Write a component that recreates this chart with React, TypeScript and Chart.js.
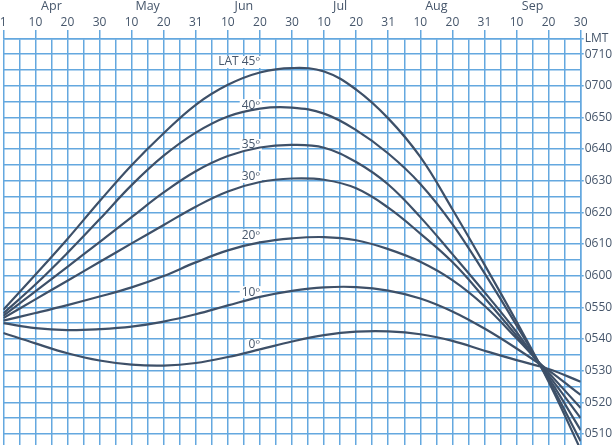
import { useEffect, useRef } from 'react';
import { Chart, registerables } from 'chart.js';

Chart.register(...registerables);

// ---- Data ----
// x positions: 0 = Apr 1, then one unit per ten-day mark (10, 20, end of month) up to 18 = Sep 30
const dekadPositions = [0, 1, 2, 3, 4, 5, 6, 7, 8, 9, 10, 11, 12, 13, 14, 15, 16, 17, 18];
const dayTickLabels = ['1', '10', '20', '30', '10', '20', '31', '10', '20', '30', '10', '20', '31', '10', '20', '31', '10', '20', '30'];
const monthNames = ['Apr', 'May', 'Jun', 'Jul', 'Aug', 'Sep'];
const timeTickLabels = ['0510', '0520', '0530', '0540', '0550', '0600', '0610', '0620', '0630', '0640', '0650', '0700', '0710'];
const unitLabel = 'LMT';

const latitudeNames = ['LAT 45º', '40º', '35º', '30º', '20º', '10º', '0º'];

// values in minutes after midnight (LMT)
const lat45 = [349.2, 360.3, 371.6, 383.5, 394.9, 405.0, 414.0, 420.3, 424.2, 425.6, 424.5, 418.8, 409.7, 397.5, 381.0, 363.5, 345.5, 326.5, 305.0];
const lat40 = [348.1, 357.2, 367.2, 377.8, 388.6, 397.9, 405.2, 410.3, 412.8, 413.1, 411.2, 406.0, 398.6, 389.0, 376.3, 360.8, 344.3, 327.0, 307.7];
const lat35 = [347.3, 355.0, 362.8, 370.6, 378.5, 386.3, 393.0, 397.8, 400.5, 401.3, 400.4, 395.9, 388.8, 378.5, 366.8, 354.8, 342.2, 327.7, 311.2];
const lat30 = [346.6, 352.5, 358.4, 364.3, 370.2, 376.0, 381.8, 386.6, 389.6, 390.7, 390.3, 387.6, 381.5, 373.3, 364.3, 353.0, 341.0, 328.5, 315.0];
const lat20 = [345.8, 348.2, 350.7, 353.4, 356.3, 359.9, 364.2, 368.0, 370.5, 371.8, 372.2, 371.2, 368.4, 364.4, 358.6, 350.5, 340.2, 329.3, 318.2];
const lat10 = [345.0, 343.4, 342.8, 343.1, 343.9, 345.5, 347.8, 350.6, 353.3, 355.2, 356.3, 356.4, 355.3, 352.8, 348.7, 343.3, 337.0, 330.1, 322.3];
const lat0 = [341.9, 338.6, 335.5, 333.2, 331.9, 331.6, 332.4, 334.3, 336.7, 339.2, 341.2, 342.3, 342.4, 341.5, 339.4, 336.3, 333.3, 330.5, 326.5];

const seriesList = [lat45, lat40, lat35, lat30, lat20, lat10, lat0];

// label annotation anchors (data space): right edge at this x, centred at these times
const labelAnchorDekad = 8.0;
const labelAnchorTimes = [427.5, 413.9, 401.3, 391.2, 372.8, 354.8, 338.1];

// ---- helpers ----
const toMinutes = (hhmm: string) => parseInt(hhmm.slice(0, 2), 10) * 60 + parseInt(hhmm.slice(2), 10);
const toHHMM = (m: number) => {
  const h = Math.floor(m / 60);
  const mm = Math.round(m - h * 60);
  return String(h).padStart(2, '0') + String(mm).padStart(2, '0');
};

const labeledTimes = timeTickLabels.map(toMinutes);
const topTime = labeledTimes[labeledTimes.length - 1] + 5; // LMT row
const gridTimes: number[] = [];
labeledTimes.forEach((t) => {
  gridTimes.push(t);
  gridTimes.push(t + 5);
});

const GRID = '#64a8df';
const LINE = '#3e5068';
const TEXT = '#46566b';
const FONT = '"Open Sans", sans-serif';

export default function App() {
  const canvasRef = useRef<HTMLCanvasElement | null>(null);

  useEffect(() => {
    document.body.style.margin = '0';
    const canvas = canvasRef.current;
    if (!canvas) return;

    const latLabelPlugin = {
      id: 'latLabels',
      beforeDatasetsDraw(chart: any) {
        const { ctx, scales } = chart;
        const xs = scales.x;
        const ys = scales.y;
        ctx.save();
        ctx.font = '12px ' + FONT;
        ctx.textAlign = 'right';
        ctx.textBaseline = 'middle';
        latitudeNames.forEach((t, i) => {
          const px = xs.getPixelForValue(labelAnchorDekad);
          const py = ys.getPixelForValue(labelAnchorTimes[i]);
          const w = ctx.measureText(t).width;
          ctx.fillStyle = '#ffffff';
          ctx.fillRect(px - w - 2, py - 6, w + 4, 12);
          ctx.fillStyle = TEXT;
          ctx.fillText(t, px, py);
        });
        ctx.restore();
      },
    };

    const chart = new Chart(canvas, {
      type: 'line',
      data: {
        datasets: seriesList.map((s, i) => ({
          label: latitudeNames[i],
          data: dekadPositions.map((k, j) => ({ x: k, y: s[j] })),
          borderColor: LINE,
          borderWidth: 2.2,
          pointRadius: 0,
          tension: 0.4,
          fill: false,
        })),
      },
      options: {
        animation: false,
        responsive: false,
        devicePixelRatio: 1,
        layout: { padding: { left: 3.3, right: 0, top: 0, bottom: 0 } },
        plugins: { legend: { display: false }, tooltip: { enabled: false } },
        scales: {
          x: {
            type: 'linear',
            position: 'top',
            min: 0,
            max: 18,
            weight: 0,
            afterBuildTicks: (scale: any) => {
              const t = [];
              for (let i = 0; i <= 36; i++) t.push({ value: i / 2 });
              scale.ticks = t;
            },
            afterFit: (scale: any) => {
              scale.height = 24.3;
              scale.paddingLeft = 0;
              scale.paddingRight = 0;
            },
            ticks: {
              autoSkip: false,
              maxRotation: 0,
              minRotation: 0,
              padding: 0,
              color: TEXT,
              font: { family: FONT, size: 12 },
              callback: (v: any) => (Number.isInteger(v) ? dayTickLabels[v] : ''),
            },
            grid: {
              color: GRID,
              lineWidth: 1.5,
              drawTicks: true,
              tickLength: 8.3,
              tickColor: (ctx: any) => (ctx.tick && Number.isInteger(ctx.tick.value) ? GRID : 'rgba(0,0,0,0)'),
            },
            border: { display: true, color: GRID, width: 1.5 },
          },
          xMonth: {
            type: 'linear',
            position: 'top',
            min: 0,
            max: 18,
            weight: 1,
            afterBuildTicks: (scale: any) => {
              scale.ticks = monthNames.map((_, i) => ({ value: i * 3 + 1.5 }));
            },
            afterFit: (scale: any) => {
              scale.height = 14;
              scale.paddingLeft = 0;
              scale.paddingRight = 0;
            },
            ticks: {
              autoSkip: false,
              maxRotation: 0,
              minRotation: 0,
              padding: 0,
              color: TEXT,
              font: { family: FONT, size: 12.5 },
              callback: (v: any) => monthNames[Math.round((v - 1.5) / 3)],
            },
            grid: { display: false, drawTicks: false },
            border: { display: false },
          },
          y: {
            type: 'linear',
            position: 'right',
            min: 306.5,
            max: topTime,
            afterBuildTicks: (scale: any) => {
              scale.ticks = gridTimes.map((v) => ({ value: v }));
            },
            afterFit: (scale: any) => {
              scale.width = 32.3;
              scale.paddingTop = 0;
              scale.paddingBottom = 0;
            },
            ticks: {
              autoSkip: false,
              padding: 1,
              color: TEXT,
              font: { family: FONT, size: 12 },
              callback: (v: any) => {
                if (v === topTime) return unitLabel;
                const idx = labeledTimes.indexOf(v);
                return idx >= 0 ? toHHMM(v) : '';
              },
            },
            grid: {
              color: GRID,
              lineWidth: 1.5,
              tickLength: 3,
              tickColor: (ctx: any) =>
                ctx.tick && (ctx.tick.value === topTime || labeledTimes.indexOf(ctx.tick.value) >= 0) ? GRID : 'rgba(0,0,0,0)',
            },
            border: { display: true, color: GRID, width: 1.5 },
          },
        },
      } as any,
      plugins: [latLabelPlugin],
    });

    return () => chart.destroy();
  }, []);

  return (
    <div style={{ position: 'absolute', left: 0, top: 0, width: 613, height: 445, overflow: 'hidden' }}>
      <canvas ref={canvasRef} width={613} height={445} style={{ display: 'block' }} />
    </div>
  );
}
